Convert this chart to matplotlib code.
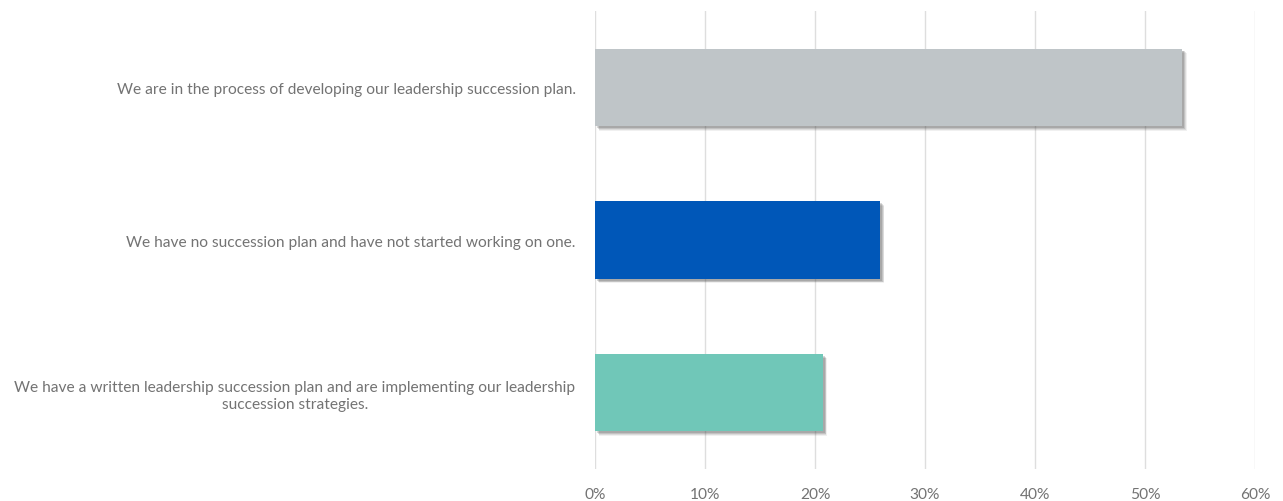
import matplotlib
matplotlib.use("Agg")
import matplotlib.pyplot as plt
import matplotlib.patheffects as pe
from matplotlib.ticker import PercentFormatter

# data (top to bottom)
labels = [
    "We are in the process of developing our leadership succession plan.",
    "We have no succession plan and have not started working on one.",
    "We have a written leadership succession plan and are implementing our leadership\nsuccession strategies.",
]
values = [53.4, 25.9, 20.7]
colors = ["#BFC5C8", "#0057B8", "#70C7B8"]

TEXT = "#737373"
plt.rcParams["font.family"] = ["Lato", "DejaVu Sans"]

fig = plt.figure(figsize=(12.83, 5.02), dpi=100)
ax = fig.add_axes([0.4638, 0.0637, 0.5144, 0.9123])

pos = list(range(len(values)))
bars = ax.barh(pos, values, height=0.507, color=colors, zorder=3)
# soft drop shadow: a few stacked offsets
shadow = [pe.SimplePatchShadow(offset=(d, -d), shadow_rgbFace="#444444", alpha=a)
          for d, a in [(3.2, 0.08), (2.6, 0.12), (2.0, 0.16), (1.4, 0.2)]]
for b in bars:
    b.set_path_effects(shadow + [pe.Normal()])

ax.set_ylim(2.5, -0.5)
ax.set_xlim(0, 60)
ax.set_xticks(range(0, 61, 10))
ax.xaxis.set_major_formatter(PercentFormatter(decimals=0))
ax.set_yticks(pos)
ax.set_yticklabels(labels, multialignment="center", linespacing=1.25)

ax.grid(axis="x", color="#DEDEDE", linewidth=1, zorder=0)
for s in ax.spines.values():
    s.set_visible(False)
ax.tick_params(axis="both", length=0, colors=TEXT, labelsize=11.2)
ax.tick_params(axis="y", pad=14)
ax.tick_params(axis="x", pad=13)

fig.savefig("out.png", dpi=100)
